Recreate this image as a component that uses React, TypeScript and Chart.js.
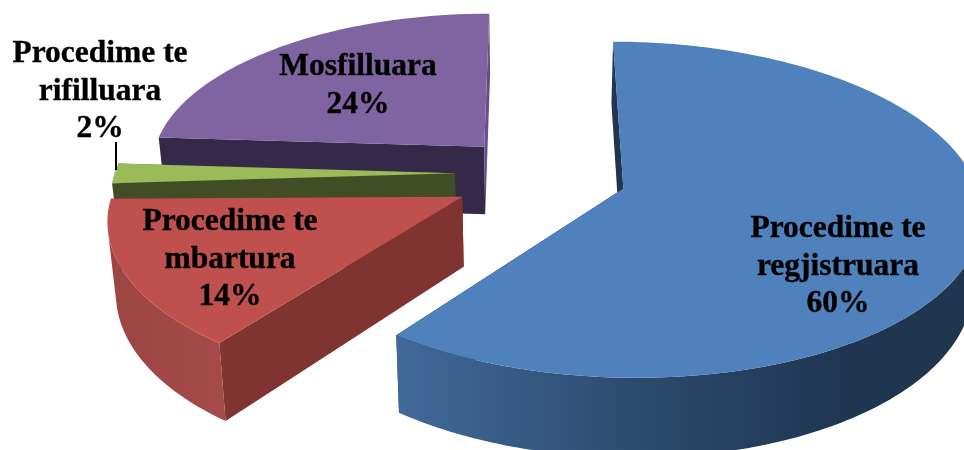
import React, { useEffect, useRef } from "react";
import { Chart, registerables } from "chart.js";

Chart.register(...registerables);

const categories = ["Procedime te regjistruara", "Procedime te mbartura", "Procedime te rifilluara", "Mosfilluara"];
const values = [60.3, 13.7, 2, 24];
const explode = [59, 39, 39, 37];
const topColors = ["#4f81bd", "#c0504d", "#9bbb59", "#8064a2"];
const startWallColors = ["#1f3552", "#7f3432", "#414d25", "#35294a"];
const endWallColors = ["#1f3552", "#7f3432", "#414d25", "#67508a"];
const outerWallStops = [
  [[400, "#41699a"], [640, "#2c4a6d"], [850, "#1f3550"], [964, "#1f3550"]],
  [[110, "#9c4543"], [225, "#a44b49"]],
  [[110, "#414d25"], [120, "#414d25"]],
  [[150, "#35294a"], [490, "#67508a"]],
];
const drawOrder = [3, 2, 1, 0];
const labelLines = [["Procedime te", "regjistruara"], ["Procedime te", "mbartura"], ["Procedime te", "rifilluara"], ["Mosfilluara"]];
const labelAnchors = [[838, 237], [230, 230], [100, 62], [358, 75]];
const apexNudge = [[0, -0.002], [0.001, 0.05], [0, 0], [0.012, -0.032]];
const radiusScale = [1.015, 1, 0.988, 0.975];
const sweepExtra = [0, 0.05, 0, 0];

const view = { vx: 532, hy: -1112, A: 1287, B: 345, p: 0.124, dA: 69, shrink: 0.02, x0: -0.024, y0: -0.011 };

function project(X: number, Y: number, z: number) {
  const w = 1 - view.p * Y;
  return { x: view.vx + (view.B * (1 - view.shrink * z) * X) / w, y: view.hy + (view.A + view.dA * z) / w };
}

function sliceGeometry(el: any, idx: number) {
  const { startAngle, endAngle, outerRadius } = el.getProps(["startAngle", "endAngle", "outerRadius"], true);
  const mid = (startAngle + endAngle) / 2;
  const off = el.options.offset / outerRadius;
  const ax = view.x0 + off * Math.cos(mid) + apexNudge[idx][0];
  const ay = view.y0 + off * Math.sin(mid) + apexNudge[idx][1];
  const end = endAngle + sweepExtra[idx];
  const n = Math.max(2, Math.ceil(((end - startAngle) * 180) / Math.PI));
  const rim: [number, number][] = [];
  for (let i = 0; i <= n; i++) {
    const a = startAngle + ((end - startAngle) * i) / n;
    rim.push([ax + radiusScale[idx] * Math.cos(a), ay + radiusScale[idx] * Math.sin(a)]);
  }
  return { ax, ay, rim };
}

function poly(ctx: CanvasRenderingContext2D, pts: { x: number; y: number }[], fill: string | CanvasGradient) {
  ctx.beginPath();
  pts.forEach((p, i) => (i ? ctx.lineTo(p.x, p.y) : ctx.moveTo(p.x, p.y)));
  ctx.closePath();
  ctx.fillStyle = fill;
  ctx.fill();
}

const pie3d = {
  id: "pie3d",
  beforeDatasetsDraw(chart: any) {
    const ctx: CanvasRenderingContext2D = chart.ctx;
    const arcs = chart.getDatasetMeta(0).data;
    for (const idx of drawOrder) {
      const el = arcs[idx];
      const { ax, ay, rim } = sliceGeometry(el, idx);
      const apexT = project(ax, ay, 0);
      const apexB = project(ax, ay, 1);
      const first = rim[0];
      const last = rim[rim.length - 1];
      poly(ctx, [apexT, project(first[0], first[1], 0), project(first[0], first[1], 1), apexB], startWallColors[idx]);
      poly(ctx, [apexT, project(last[0], last[1], 0), project(last[0], last[1], 1), apexB], endWallColors[idx]);

      const stops = outerWallStops[idx] as [number, string][];
      const x0 = stops[0][0];
      const x1 = stops[stops.length - 1][0];
      const grad = ctx.createLinearGradient(x0, 0, x1, 0);
      stops.forEach(([x, c]) => grad.addColorStop((x - x0) / (x1 - x0), c));
      const tops: { x: number; y: number }[] = [];
      const bottoms: { x: number; y: number }[] = [];
      for (let i = 0; i < rim.length - 1; i++) {
        const p1 = project(rim[i][0], rim[i][1], 0);
        const p2 = project(rim[i + 1][0], rim[i + 1][1], 0);
        const q2 = project(rim[i + 1][0], rim[i + 1][1], 1);
        const q1 = project(rim[i][0], rim[i][1], 1);
        const cross = (p2.x - p1.x) * (q2.y - p2.y) - (p2.y - p1.y) * (q2.x - p2.x);
        if (cross < 0) {
          if (!tops.length) {
            tops.push(p1);
            bottoms.push(q1);
          }
          tops.push(p2);
          bottoms.push(q2);
        }
      }
      if (tops.length) poly(ctx, [...tops, ...bottoms.reverse()], grad);

      poly(ctx, [apexT, ...rim.map(([x, y]) => project(x, y, 0))], el.options.backgroundColor);
    }
    return false;
  },
  afterDraw(chart: any) {
    const ctx: CanvasRenderingContext2D = chart.ctx;
    ctx.save();
    ctx.strokeStyle = "#000";
    ctx.lineWidth = 2;
    ctx.beginPath();
    ctx.moveTo(116, 142);
    ctx.lineTo(116, 170);
    ctx.stroke();
    ctx.fillStyle = "#000";
    ctx.strokeStyle = "#000";
    ctx.lineWidth = 0.35;
    ctx.font = 'bold 31.5px "Liberation Serif"';
    ctx.textAlign = "center";
    ctx.textBaseline = "alphabetic";
    const lineGap = 37.5;
    categories.forEach((_, i) => {
      const [cx, cy] = labelAnchors[i];
      const lines = [...labelLines[i], `${Math.round(values[i])}%`];
      lines.forEach((t, j) => {
        ctx.fillText(t, cx, cy + j * lineGap);
        ctx.strokeText(t, cx, cy + j * lineGap);
      });
    });
    ctx.restore();
  },
};

export default function App() {
  const ref = useRef<HTMLCanvasElement>(null);
  useEffect(() => {
    const chart = new Chart(ref.current as HTMLCanvasElement, {
      type: "pie",
      data: {
        labels: categories,
        datasets: [{ data: values, backgroundColor: topColors, offset: explode, borderWidth: 0 }],
      },
      options: {
        responsive: false,
        animation: false,
        layout: { padding: 0 },
        plugins: { legend: { display: false }, tooltip: { enabled: false } },
      },
      plugins: [pie3d],
    } as any);
    return () => chart.destroy();
  }, []);
  return (
    <canvas
      ref={ref}
      width={964}
      height={450}
      style={{ position: "fixed", left: 0, top: 0, display: "block", width: 964, height: 450, background: "#fff" }}
    />
  );
}
